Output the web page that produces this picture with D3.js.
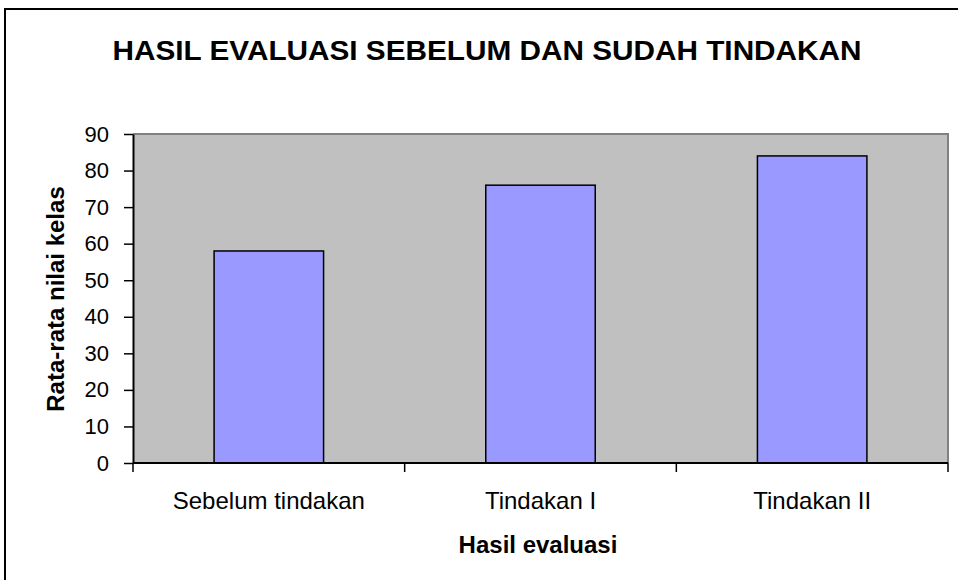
<!DOCTYPE html>
<html>
<head>
<meta charset="utf-8">
<script src="https://cdn.jsdelivr.net/npm/d3@7"></script>
<style>
  body { margin: 0; background: #fff; }
  text { font-family: "Liberation Sans", Arial, sans-serif; fill: #000; }
</style>
</head>
<body>
<svg id="chart" width="958" height="580"></svg>
<script>
var svg = d3.select('#chart');
const W = +svg.attr('width');
const H = +svg.attr('height');

// data
const categories = ["Sebelum tindakan", "Tindakan I", "Tindakan II"];
const values = [58, 76, 84];
const yTicks = [0, 10, 20, 30, 40, 50, 60, 70, 80, 90];

const title = "HASIL EVALUASI SEBELUM DAN SUDAH TINDAKAN";
const xTitle = "Hasil evaluasi";
const yTitle = "Rata-rata nilai kelas";

const margin = {top: 134, bottom: 117, left: 133, right: 10};
const innerW = W - margin.left - margin.right;
const innerH = H - margin.top - margin.bottom;

// outer chart border (runs off the right and bottom edge)
svg.append('rect')
    .attr('x', 5).attr('y', 9)
    .attr('width', W + 20).attr('height', H + 20)
    .attr('fill', 'none')
    .attr('stroke', '#000')
    .attr('stroke-width', 2);

const xScale = d3.scaleBand()
    .domain(categories)
    .range([0, innerW])
    .paddingInner(0).paddingOuter(0);

const yScale = d3.scaleLinear()
    .domain([0, 90])
    .range([innerH, 0]);

const g = svg.append('g')
    .attr('transform', 'translate(' + margin.left + ',' + margin.top + ')');

// plot area
g.append('rect')
    .attr('x', 0).attr('y', 0)
    .attr('width', innerW).attr('height', innerH)
    .attr('fill', '#c0c0c0');
g.append('path')
    .attr('d', 'M0,0H' + innerW + 'V' + innerH)
    .attr('fill', 'none')
    .attr('stroke', '#808080')
    .attr('stroke-width', 2);

const barW = xScale.bandwidth() * 0.403;
g.selectAll('rect.bar').data(values)
    .enter().append('rect')
    .classed('bar', true)
    .attr('x', (d, i) => xScale(categories[i]) + (xScale.bandwidth() - barW) / 2)
    .attr('y', d => yScale(d))
    .attr('width', barW)
    .attr('height', d => innerH - yScale(d))
    .attr('fill', '#9999ff')
    .attr('stroke', '#000')
    .attr('stroke-width', 1.5);

// y axis
const yAxis = g.append('g')
    .call(d3.axisLeft(yScale).tickValues(yTicks).tickSize(9).tickPadding(15).tickSizeOuter(0));
yAxis.select('.domain').attr('stroke', '#000').attr('stroke-width', 2);
yAxis.selectAll('.tick line').attr('stroke', '#000').attr('stroke-width', 1.5);
yAxis.selectAll('.tick text')
    .style('font-family', '"Liberation Sans", Arial, sans-serif')
    .style('font-size', '22px');

// x axis: ticks at category boundaries
const xAxisG = g.append('g').attr('transform', 'translate(0,' + innerH + ')');
xAxisG.append('line')
    .attr('x1', 0).attr('x2', innerW)
    .attr('stroke', '#000').attr('stroke-width', 2);
const bounds = categories.map(c => xScale(c)).concat([innerW]);
xAxisG.selectAll('line.tk').data(bounds)
    .enter().append('line')
    .classed('tk', true)
    .attr('x1', d => d).attr('x2', d => d)
    .attr('y1', 0).attr('y2', 9)
    .attr('stroke', '#000').attr('stroke-width', 1.5);
xAxisG.selectAll('text.cat').data(categories)
    .enter().append('text')
    .classed('cat', true)
    .attr('x', d => xScale(d) + xScale.bandwidth() / 2)
    .attr('y', 46)
    .attr('text-anchor', 'middle')
    .style('font-size', '24px')
    .text(d => d);

// titles
svg.append('text')
    .attr('x', 487).attr('y', 60)
    .attr('text-anchor', 'middle')
    .attr('textLength', 749)
    .attr('lengthAdjust', 'spacingAndGlyphs')
    .style('font-size', '28px')
    .style('font-weight', 'bold')
    .text(title);

svg.append('text')
    .attr('x', 538).attr('y', 553)
    .attr('text-anchor', 'middle')
    .style('font-size', '24px')
    .style('font-weight', 'bold')
    .text(xTitle);

svg.append('text')
    .attr('transform', 'translate(64,299) rotate(-90)')
    .attr('text-anchor', 'middle')
    .style('font-size', '24px')
    .style('font-weight', 'bold')
    .text(yTitle);
</script>
</body>
</html>
